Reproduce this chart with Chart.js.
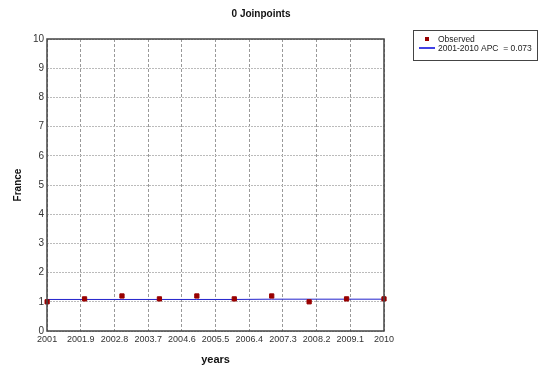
<!DOCTYPE html>
<html>
<head>
<meta charset="utf-8">
<script src="https://cdn.jsdelivr.net/npm/chart.js@4"></script>
<style>
  html, body { margin: 0; padding: 0; background: #fff; }
  #wrap { width: 541px; height: 370px; position: relative; }
</style>
</head>
<body>
<div id="wrap"><canvas id="chart"></canvas></div>
<script>
'use strict';

const years = [2001, 2002, 2003, 2004, 2005, 2006, 2007, 2008, 2009, 2010];
const observed = [1.0, 1.1, 1.2, 1.1, 1.2, 1.1, 1.2, 1.0, 1.1, 1.1];
const fitted = [1.08, 1.08, 1.08, 1.08, 1.08, 1.08, 1.09, 1.09, 1.09, 1.09];
const xTicks = [2001, 2001.9, 2002.8, 2003.7, 2004.6, 2005.5, 2006.4, 2007.3, 2008.2, 2009.1, 2010];
const xTickLabels = ['2001', '2001.9', '2002.8', '2003.7', '2004.6', '2005.5', '2006.4', '2007.3', '2008.2', '2009.1', '2010'];
const chartTitle = '0 Joinpoints';
const legendLabels = ['Observed', '2001-2010 APC  = 0.073'];

const FONT = '"Liberation Sans", Arial, sans-serif';

const frame = {
  id: 'frame',
  afterDatasetsDraw(chart) {
    const { ctx, chartArea: a } = chart;
    ctx.save();
    ctx.strokeStyle = '#444';
    ctx.lineWidth = 1.5;
    ctx.strokeRect(Math.round(a.left), Math.round(a.top), Math.round(a.right - a.left), Math.round(a.bottom - a.top));
    ctx.restore();
  },
  afterDraw(chart) {
    const { ctx } = chart;
    ctx.save();
    // title
    ctx.fillStyle = '#111';
    ctx.font = 'bold 10px ' + FONT;
    ctx.textAlign = 'center';
    ctx.textBaseline = 'middle';
    ctx.fillText(chartTitle, 261, 14);
    // legend
    const x = 413, y = 30, w = 124, h = 30;
    ctx.textAlign = 'left';
    ctx.fillStyle = '#fff';
    ctx.fillRect(x, y, w, h);
    ctx.strokeStyle = '#444';
    ctx.lineWidth = 1;
    ctx.strokeRect(x + 0.5, y + 0.5, w, h);
    ctx.fillStyle = '#990000';
    ctx.fillRect(x + 12, y + 7, 4, 4);
    ctx.strokeStyle = '#0000dd';
    ctx.lineWidth = 1.5;
    ctx.beginPath();
    ctx.moveTo(x + 6, y + 18);
    ctx.lineTo(x + 22, y + 18);
    ctx.stroke();
    ctx.fillStyle = '#222';
    ctx.font = '8.5px ' + FONT;
    ctx.fillText(legendLabels[0], x + 25, y + 10);
    ctx.fillText(legendLabels[1], x + 25, y + 19);
    ctx.restore();
  }
};

new Chart(document.getElementById('chart'), {
  type: 'scatter',
  data: {
    datasets: [
      {
        label: legendLabels[1],
        type: 'line',
        data: years.map((y, i) => ({ x: y, y: fitted[i] })),
        borderColor: '#2222cc',
        borderWidth: 1,
        pointRadius: 0,
        fill: false,
        order: 2,
      },
      {
        label: legendLabels[0],
        data: years.map((y, i) => ({ x: y, y: observed[i] })),
        backgroundColor: '#990000',
        borderColor: '#990000',
        pointStyle: 'rect',
        pointRadius: 3,
        order: 1,
        clip: false,
      },
    ],
  },
  options: {
    responsive: true,
    maintainAspectRatio: false,
    animation: false,
    layout: { padding: { left: 12, right: 157, top: 39, bottom: 3 } },
    plugins: {
      legend: { display: false },
      tooltip: { enabled: false },
      title: { display: false },
    },
    scales: {
      x: {
        type: 'linear',
        min: 2001,
        max: 2010,
        afterBuildTicks(axis) { axis.ticks = xTicks.map(v => ({ value: v })); },
        ticks: {
          callback: (v, i) => xTickLabels[i],
          color: '#333',
          font: { family: FONT, size: 9 },
          maxRotation: 0,
          autoSkip: false,
          padding: 3,
        },
        grid: { color: '#999', drawTicks: false },
        border: { display: false, dash: [3, 2] },
        title: {
          display: true,
          text: 'years',
          color: '#111',
          font: { family: FONT, size: 11, weight: 'bold' },
          padding: { top: 6, bottom: 0 },
        },
      },
      y: {
        min: 0,
        max: 10,
        ticks: {
          stepSize: 1,
          color: '#333',
          font: { family: FONT, size: 10 },
          padding: 3,
        },
        grid: { color: '#bbb', drawTicks: false },
        border: { display: false, dash: [2, 1] },
        title: {
          display: true,
          text: 'France',
          color: '#111',
          font: { family: FONT, size: 10, weight: 'bold' },
          padding: { top: 0, bottom: 6 },
        },
      },
    },
  },
  plugins: [frame],
});
</script>
</body>
</html>
